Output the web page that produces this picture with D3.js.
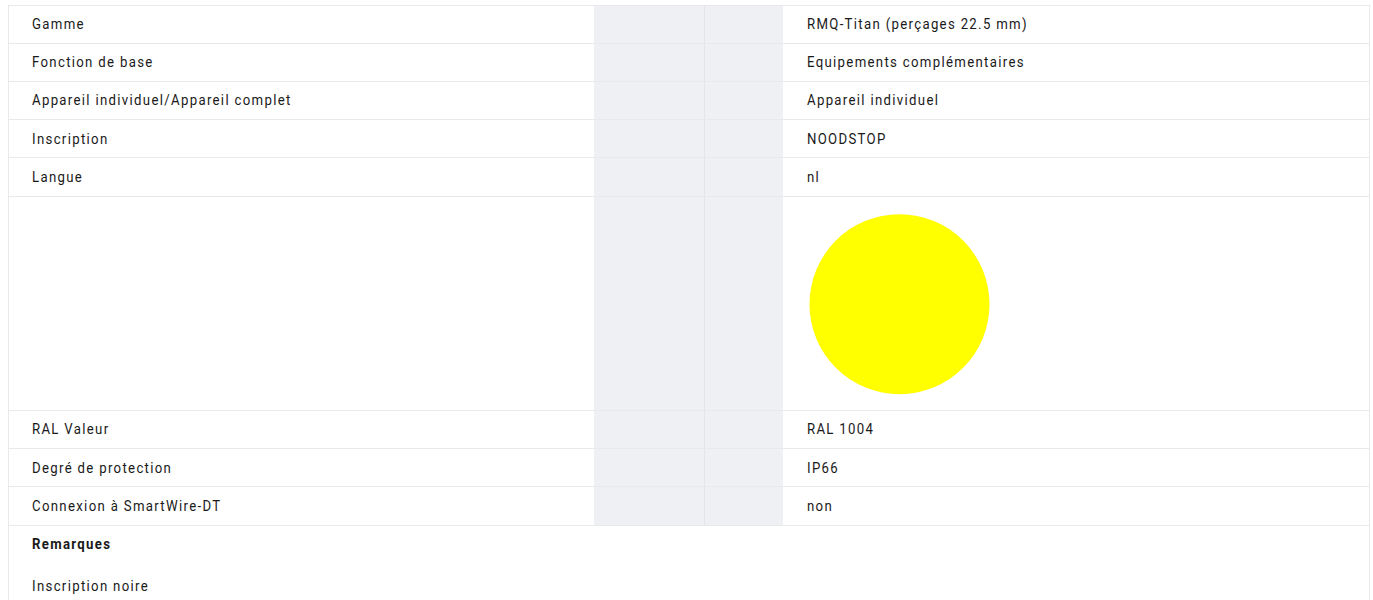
<!DOCTYPE html>
<html>
  <head>
    <meta charset="utf-8">
    <title>Fiche technique</title>
    <script src="https://d3js.org/d3.v7.min.js"></script>
    <style>
      body { margin: 0; background-color: white; }
      text { font-family: 'Roboto', sans-serif; font-size: 15px; fill: #1a1a1a; letter-spacing: 1.5px; }
    </style>
  </head>
  <body>
    <svg id="canvas" width="1373" height="600"></svg>

    <script>
      // table content
      const labels = ['Gamme', 'Fonction de base', 'Appareil individuel/Appareil complet', 'Inscription',
        'Langue', '', 'RAL Valeur', 'Degré de protection', 'Connexion à SmartWire-DT']
      const values = ['RMQ-Titan (perçages 22.5 mm)', 'Equipements complémentaires', 'Appareil individuel',
        'NOODSTOP', 'nl', null, 'RAL 1004', 'IP66', 'non']
      // the swatch row shows the RAL colour instead of text
      const swatchColors = [null, null, null, null, null, '#ffff00', null, null, null]
      const remarkTitle = 'Remarques'
      const remarks = ['Inscription noire']

      const left = 8
      const right = 1369
      const tableTop = 5
      const rowHeight = 38.2
      const swatchHeight = 214.4
      const grayX0 = 594
      const grayMid = 704
      const grayX1 = 783
      const valueX = 807
      const labelX = 32
      const lineColor = '#e9e9ec'
      // the original face is a narrow one; squeeze Roboto to match
      const squeeze = 0.88

      let svg = d3.select('#canvas')

      const narrow = x => `translate(${x}, 0) scale(${squeeze}, 1)`

      // row tops from the row heights
      let heights = labels.map((d, i) => swatchColors[i] ? swatchHeight : rowHeight)
      let tops = d3.cumsum([0].concat(heights)).map(d => tableTop + d)
      let rows = labels.map((d, i) => ({ label: d, value: values[i], swatch: swatchColors[i], y0: tops[i], h: heights[i] }))
      let tableBottom = tops[tops.length - 1]

      // grey spacer columns
      svg.append('rect')
        .attr('x', grayX0)
        .attr('y', tableTop)
        .attr('width', grayX1 - grayX0)
        .attr('height', Math.floor(tableBottom) - tableTop)
        .attr('fill', '#eff0f4')

      svg.append('line')
        .attr('x1', grayMid + 0.5).attr('x2', grayMid + 0.5)
        .attr('y1', tableTop).attr('y2', Math.floor(tableBottom))
        .attr('stroke', '#e4e5ea')

      // outer borders
      svg.append('line')
        .attr('x1', left + 0.5).attr('x2', left + 0.5)
        .attr('y1', tableTop).attr('y2', 600)
        .attr('stroke', lineColor)
      svg.append('line')
        .attr('x1', right + 0.5).attr('x2', right + 0.5)
        .attr('y1', tableTop).attr('y2', 600)
        .attr('stroke', lineColor)

      // horizontal rules
      svg.selectAll('line.rule').data(tops)
        .enter()
        .append('line')
          .attr('class', 'rule')
          .attr('x1', left).attr('x2', right + 1)
          .attr('y1', d => Math.floor(d) + 0.5)
          .attr('y2', d => Math.floor(d) + 0.5)
          .attr('stroke', lineColor)

      let g = svg.selectAll('g.row').data(rows)
        .enter()
        .append('g')
          .attr('class', 'row')
          .attr('transform', d => `translate(0, ${d.y0})`)

      g.append('text')
        .attr('transform', narrow(labelX))
        .attr('y', d => d.h / 2 + 5)
        .text(d => d.label)

      g.filter(d => d.value)
        .append('text')
          .attr('transform', narrow(valueX))
          .attr('y', d => d.h / 2 + 5)
          .text(d => d.value)

      g.filter(d => d.swatch)
        .append('circle')
          .attr('cx', 899.5)
          .attr('cy', d => d.h / 2 + 1)
          .attr('r', 90)
          .attr('fill', d => d.swatch)

      // remarks block
      svg.append('text')
        .attr('transform', narrow(labelX))
        .attr('y', tableBottom + 24)
        .style('font-weight', 'bold')
        .text(remarkTitle)

      svg.selectAll('text.remark').data(remarks)
        .enter()
        .append('text')
          .attr('class', 'remark')
          .attr('x', 0)
          .attr('transform', narrow(labelX))
          .attr('y', (d, i) => tableBottom + 66 + i * 38)
          .text(d => d)
    </script>
  </body>
</html>
